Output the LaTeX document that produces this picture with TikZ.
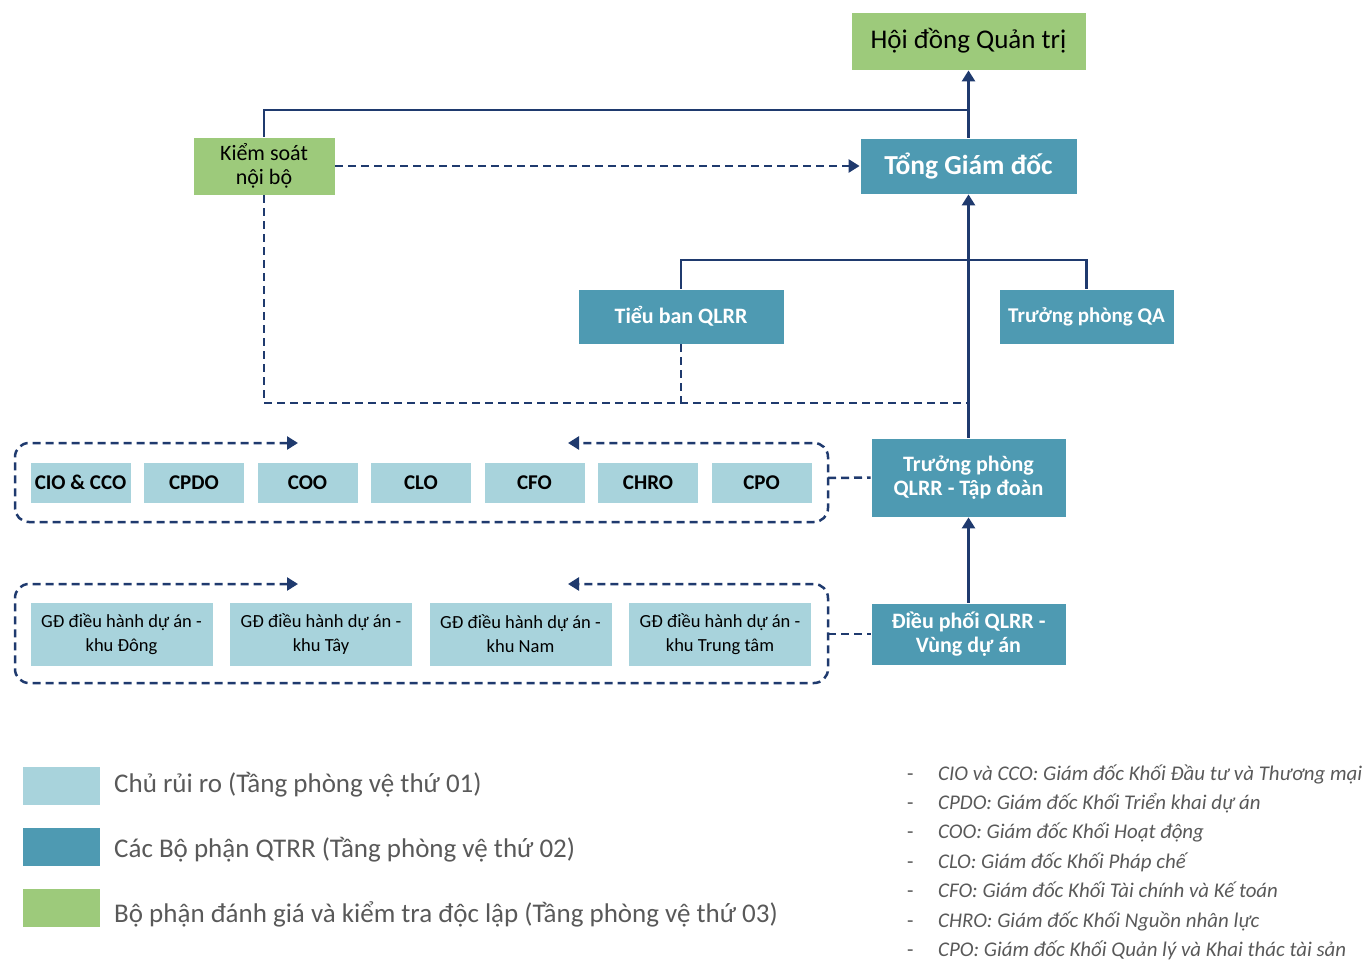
\documentclass[tikz,border=0pt]{standalone}
\usepackage{fontspec}
\setmainfont{Carlito}
\usetikzlibrary{arrows.meta}
\definecolor{lite}{HTML}{A8D3DC}
\definecolor{teal2}{HTML}{4E9AB2}
\definecolor{grn}{HTML}{9DCA7B}
\definecolor{navy}{HTML}{1F3A6E}
\definecolor{txtgray}{HTML}{595959}
\tikzset{
  lbox/.style={fill=lite, draw=white, line width=0.8pt, inner sep=0pt, align=center, text=black},
  tbox/.style={fill=teal2, draw=white, line width=0.8pt, inner sep=0pt, align=center, text=white},
  gbox/.style={fill=grn, draw=white, line width=0.8pt, inner sep=0pt, align=center, text=black},
  conn/.style={draw=navy, line width=2.5pt},
  dconn/.style={draw=navy, line width=2.5pt, dash pattern=on 8pt off 5pt},
  tip/.style={-{Triangle[width=13pt,length=11pt]}},
  btip/.style={{Triangle[width=13pt,length=11pt]}-{Triangle[width=13pt,length=11pt]}},
}
\begin{document}
\begin{tikzpicture}[x=1pt,y=-1pt]
\useasboundingbox (0,0) rectangle (1368,960);
% top nodes
\node[gbox, minimum width=235pt, minimum height=58pt, font=\fontsize{27}{30}\selectfont] (hd) at (968.5,41) {\raisebox{-2pt}{Hội đồng Quản trị}};
\node[tbox, minimum width=217pt, minimum height=56pt, font=\fontsize{27.5}{30}\selectfont\bfseries] (tgd) at (968.5,166) {\raisebox{-2pt}{Tổng Giám đốc}};
\node[gbox, minimum width=142pt, minimum height=58pt, font=\fontsize{22}{24}\selectfont] (ks) at (264,166) {Kiểm soát\\nội bộ};
\node[tbox, minimum width=206pt, minimum height=55pt, font=\fontsize{22}{24}\selectfont\bfseries] (tb) at (681,316.5) {Tiểu ban QLRR};
\node[tbox, minimum width=175pt, minimum height=55pt, font=\fontsize{21}{24}\selectfont\bfseries] (qa) at (1086.5,316.5) {Trưởng phòng QA};
\node[tbox, minimum width=195pt, minimum height=79pt, font=\fontsize{22}{24.5}\selectfont\bfseries] (tpq) at (968.5,477.5) {Trưởng phòng\\QLRR - Tập đoàn};
\node[tbox, minimum width=195pt, minimum height=62pt, font=\fontsize{22}{24.5}\selectfont\bfseries] (dp) at (968.5,634) {Điều phối QLRR -\\Vùng dự án};
% row 1
\foreach \n/\t [count=\i from 0] in {r1a/CIO \& CCO, r1b/CPDO, r1c/COO, r1d/CLO, r1e/CFO, r1f/CHRO, r1g/CPO}{
  \node[lbox, minimum width=101pt, minimum height=41pt, font=\fontsize{21}{24}\selectfont\bfseries] (\n) at (80.5+113.5*\i,482.5) {\raisebox{-2pt}{\t}};
}
% row 2
\foreach \n/\t [count=\i from 0] in {r2a/{GĐ điều hành dự án -\\khu Đông}, r2b/{GĐ điều hành dự án -\\khu Tây}, r2c/{GĐ điều hành dự án -\\khu Nam}, r2d/{GĐ điều hành dự án -\\khu Trung tâm}}{
  \node[lbox, minimum width=183pt, minimum height=64pt, font=\fontsize{18.5}{24}\selectfont] (\n) at (121.5+199.5*\i,634) {\t};
}
% coordinates
\coordinate (j1) at (968.5,110);
\coordinate (j2) at (968.5,403);
\coordinate (j3) at (968.5,260);
\coordinate (g1e) at (828,478);
\coordinate (g2e) at (828,634);
% connectors
\draw[conn, tip] (tgd.north) -- (hd.south);
\draw[conn] (ks.north) |- (j1);
\draw[dconn, tip] (ks.east) -- (tgd.west);
\draw[conn, tip] (tpq.north) -- (tgd.south);
\draw[conn] (tb.north) |- (j3) -| (qa.north);
\draw[dconn] (ks.south) |- (j2);
\draw[dconn] (tb.south) -- (tb.south |- j2);
\draw[conn, tip] (dp.north) -- (tpq.south);
\draw[dconn] (g1e) -- (tpq.west);
\draw[dconn] (g2e) -- (dp.west);
% group outlines
\draw[dconn, btip, rounded corners=14pt] (298,443) -- (15,443) -- (15,522) -- (828,522) -- (828,443) -- (568,443);
\draw[dconn, btip, rounded corners=14pt] (298,584) -- (15,584) -- (15,683) -- (828,683) -- (828,584) -- (568,584);
% legend
\node[lbox, draw=none, minimum width=77pt, minimum height=38pt] (lg1) at (61.5,785.5) {};
\node[tbox, draw=none, minimum width=77pt, minimum height=38pt] (lg2) at (61.5,847) {};
\node[gbox, draw=none, minimum width=77pt, minimum height=38pt] (lg3) at (61.5,908) {};
\begin{scope}[every node/.style={anchor=base west, text=txtgray, font=\fontsize{27}{30}\selectfont, inner sep=0pt}]
\node (lt1) at (114,792) {Chủ rủi ro (Tầng phòng vệ thứ 01)};
\node (lt2) at (114,857) {Các Bộ phận QTRR (Tầng phòng vệ thứ 02)};
\node (lt3) at (114,922) {Bộ phận đánh giá và kiểm tra độc lập (Tầng phòng vệ thứ 03)};
\end{scope}
% notes
\begin{scope}[every node/.style={anchor=base west, text=txtgray, font=\fontsize{20.9}{24}\selectfont\itshape, inner sep=0pt}]
\foreach \t [count=\i from 0] in {CIO và CCO: Giám đốc Khối Đầu tư và Thương mại, CPDO: Giám đốc Khối Triển khai dự án, COO: Giám đốc Khối Hoạt động, CLO: Giám đốc Khối Pháp chế, CFO: Giám đốc Khối Tài chính và Kế toán, CHRO: Giám đốc Khối Nguồn nhân lực, CPO: Giám đốc Khối Quản lý và Khai thác tài sản}{
  \node[font=\fontsize{20.9}{24}\selectfont] (nd\i) at (907,780+29.4*\i) {-};
  \node (nt\i) at (938,780+29.4*\i) {\t};
}
\end{scope}
\end{tikzpicture}
\end{document}
